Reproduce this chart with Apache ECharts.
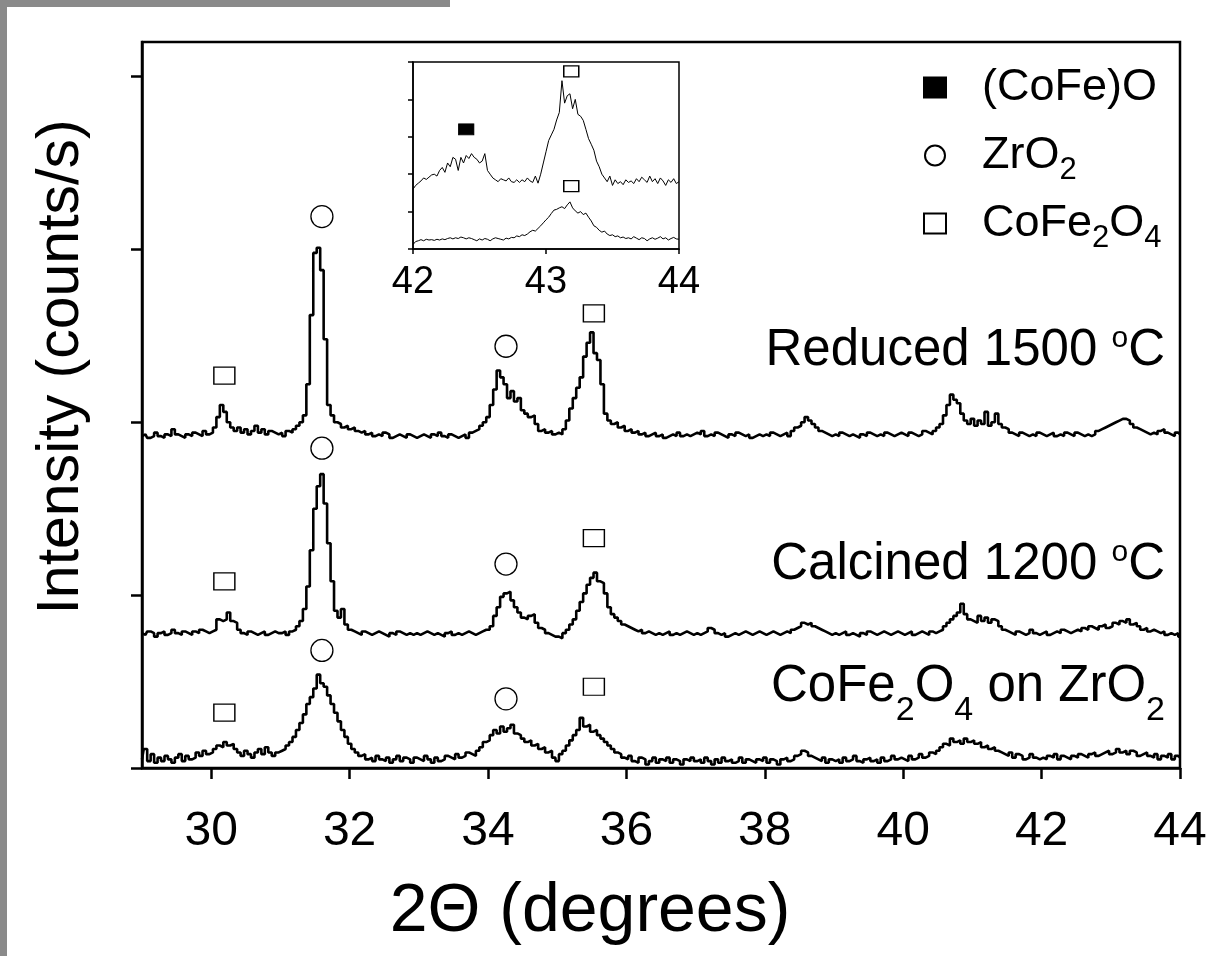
<!DOCTYPE html>
<html><head><meta charset="utf-8">
<script src="https://cdn.jsdelivr.net/npm/echarts@6/dist/echarts.min.js"></script>
<style>html,body{margin:0;padding:0;background:#fff}#c{width:1211px;height:956px}</style>
</head><body><div id="c"></div><script>
// ---- data ----
const X_START = 29, X_STEP = 0.05;               // main pattern sampling (2θ, degrees)
const reduced = [
192,193,191,192,194,192,191,193,192,196,193,192,191,193,192,194,193,192,195,193,
194,197,203,210,206,200,197,195,197,194,196,193,195,198,194,196,193,195,194,193,
194,192,195,194,196,198,200,204,222,262,298,301,288,248,210,204,200,199,197,198,
196,197,195,194,195,193,194,192,193,192,194,193,191,192,193,192,191,193,192,191,
192,193,192,191,193,192,194,192,191,193,192,191,192,193,191,194,195,196,198,200,
203,210,219,230,226,222,214,218,212,214,207,205,203,204,199,195,196,194,195,193,
194,193,196,201,208,214,220,226,238,246,252,240,236,222,205,201,199,200,197,198,
195,196,194,195,193,194,192,193,194,192,193,191,192,193,192,194,192,193,192,193,
194,193,195,192,193,192,194,193,192,191,193,192,194,193,192,193,191,192,193,192,
193,192,194,193,192,193,194,192,195,197,198,200,203,201,199,197,195,194,193,192,
193,192,194,193,192,193,192,191,193,192,194,193,192,193,192,194,193,192,193,194,
193,192,194,193,192,193,195,194,193,195,197,199,204,210,216,213,211,205,201,199,
202,198,201,199,206,198,200,205,199,197,196,194,193,192,194,193,192,193,192,194,
193,192,193,194,192,193,192,194,193,192,194,193,192,193,192,193,195,196,197,198,
199,200,201,202,202,201,199,197,196,195,194,193,194,193,195,196,194,193,192,194,
193];
const calcined = [
78,77,79,78,76,78,79,77,78,80,78,77,79,78,77,79,78,80,79,78,
79,80,86,85,86,90,85,84,80,78,77,79,78,77,78,79,77,78,79,78,
78,79,77,79,80,82,85,92,105,126,150,163,170,153,130,108,91,87,92,83,
80,79,78,77,79,78,77,78,79,78,77,76,78,77,79,78,77,78,77,78,
77,78,79,78,77,78,77,76,78,79,77,78,77,78,79,78,77,78,79,80,
80,82,88,93,99,101,102,97,93,90,87,86,88,89,84,81,80,78,77,76,
76,75,78,80,83,86,91,96,101,106,110,113,108,107,101,93,89,87,85,83,
82,81,80,79,80,78,79,78,77,78,77,78,79,77,78,77,78,79,78,77,
78,77,78,79,81,80,78,77,78,76,77,78,77,78,79,78,77,78,79,78,
77,78,79,78,77,78,79,78,80,81,82,84,83,84,82,81,80,79,78,77,
78,77,78,79,77,78,77,76,78,77,79,78,77,78,79,78,77,78,79,78,
77,78,79,77,78,79,78,77,79,78,79,80,82,84,86,88,90,95,89,86,
85,84,88,85,87,84,86,85,82,80,79,78,77,79,78,77,78,80,78,77,
78,79,77,78,79,78,80,79,78,79,80,79,81,80,82,81,80,82,83,81,
82,84,83,85,84,86,83,84,82,80,81,79,80,79,78,79,77,78,77,78,
76];
const supported = [
5,11,4,8,3,6,4,7,5,3,6,8,4,7,5,6,9,7,10,8,
9,11,13,12,15,13,14,11,9,7,10,8,6,9,11,8,12,9,7,9,
10,11,13,15,18,22,26,31,37,41,46,54,49,47,42,37,32,27,22,18,
14,11,9,7,8,5,6,4,7,5,4,6,3,5,7,4,6,5,3,6,
5,4,7,5,3,6,4,5,7,6,5,8,6,7,9,8,7,10,12,15,
16,19,22,20,24,21,23,25,20,19,17,15,16,13,14,11,12,9,10,6,
4,8,10,13,16,19,22,29,24,25,21,22,19,17,15,13,11,9,8,6,
5,7,4,3,6,5,2,4,6,3,5,4,6,3,5,4,2,5,4,6,
4,5,3,6,4,2,5,3,6,4,5,3,4,6,3,5,4,3,5,4,
6,3,5,4,2,5,6,4,5,7,8,10,9,7,6,5,4,6,3,5,
4,5,3,6,4,5,7,4,3,5,6,4,5,3,6,4,5,7,5,6,
5,4,7,5,6,8,6,7,9,8,10,12,14,13,17,15,16,14,17,15,
16,14,15,12,13,11,12,10,9,8,7,9,6,8,7,5,6,8,6,5,
6,5,7,6,8,5,7,6,5,7,6,8,7,6,8,9,7,8,9,10,
8,9,11,9,10,8,10,9,7,8,9,7,6,8,5,7,6,8,5,7,
6];
const INSET_START = 42, INSET_STEP = 0.02;        // inset sampling
const insetReduced = [
1.60,1.70,1.76,1.82,1.90,1.86,1.92,1.98,2.00,1.95,
2.10,2.18,2.05,2.30,2.20,2.45,2.40,2.10,2.45,2.30,
2.50,2.42,2.55,2.45,2.40,2.30,2.35,2.55,2.10,2.00,
1.90,1.85,1.80,1.88,1.85,1.82,1.90,1.80,1.78,1.85,
1.78,1.85,1.80,1.90,1.82,1.78,1.95,1.76,2.00,2.30,
2.60,2.90,3.05,3.20,3.45,3.65,4.50,3.90,4.10,4.15,
3.75,4.00,3.60,3.55,3.44,3.20,2.95,2.80,2.64,2.35,
2.20,2.00,1.90,1.80,1.95,1.70,1.85,1.75,1.80,1.72,
1.85,1.78,1.82,1.75,1.88,1.80,1.92,1.85,1.78,1.95,
1.80,1.88,1.75,1.90,1.82,1.70,1.85,1.78,1.88,1.75,
1.80];
const insetCalcined = [
0.12,0.20,0.22,0.25,0.22,0.26,0.24,0.25,0.23,0.26,
0.24,0.27,0.25,0.28,0.30,0.27,0.30,0.28,0.32,0.30,
0.27,0.30,0.28,0.25,0.22,0.27,0.24,0.28,0.26,0.22,
0.27,0.30,0.28,0.26,0.24,0.29,0.27,0.31,0.30,0.35,
0.33,0.38,0.36,0.40,0.46,0.50,0.48,0.55,0.62,0.70,
0.78,0.85,0.95,1.04,1.06,1.10,1.13,1.08,1.18,1.26,
1.10,1.02,0.96,1.00,0.92,0.96,0.85,0.75,0.62,0.58,
0.50,0.45,0.48,0.40,0.36,0.38,0.33,0.35,0.30,0.32,
0.28,0.30,0.27,0.33,0.29,0.25,0.30,0.28,0.22,0.27,
0.30,0.26,0.29,0.33,0.27,0.30,0.24,0.28,0.31,0.27,
0.26];
const xTickValues = [30, 32, 34, 36, 38, 40, 42, 44];
const yTickValues = [0, 100, 200, 300, 400];
const zro2Marks = [[31.60,319],[34.26,244],[31.60,185],[34.26,118],[31.60,68],[34.26,40]];
const spinelMarks = [[30.19,227],[35.53,263],[30.19,108],[35.53,133],[30.19,32],[35.53,47]];
const insetSpinelMarks = [[43.19,4.75],[43.19,1.68]];
const insetWustiteMarks = [[42.40,3.2]];
const legendNames = ['(CoFe)O', 'ZrO2', 'CoFe2O4'];
const curveLabels = ['Reduced 1500 °C', 'Calcined 1200 °C', 'CoFe2O4 on ZrO2'];

// ---- helpers ----
const FONT = "'Liberation Sans', Arial, sans-serif";
function toXY(arr, start, step, dec) {
  return arr.map((v, i) => [+(start + i * step).toFixed(dec), v]);
}
const richMain = (size, extra) => Object.assign({fontSize: size, fontFamily: FONT, color: '#000', fill: '#000'}, extra || {});

const chart = echarts.init(document.getElementById('c'), null, {renderer: 'canvas'});
const lineBase = {type: 'line', showSymbol: false, step: 'middle', silent: true, animation: false};
const markStyle = {color: '#fff', borderColor: '#000', borderWidth: 1.3, opacity: 1};

const labelRich = {
  a: richMain(51),
  o: richMain(30, {padding: [0, 0, 24, 0]}),
  s: richMain(34, {padding: [48, 0, 0, 0]})
};
const labelTexts = [
  '{a|Reduced 1500 }{o|o}{a|C}',
  '{a|Calcined 1200 }{o|o}{a|C}',
  '{a|CoFe}{s|2}{a|O}{s|4}{a| on ZrO}{s|2}'
];
const labelY = [351, 565, 687];

chart.setOption({
  animation: false,
  backgroundColor: '#fff',
  grid: [
    {left: 142, top: 42, width: 1038, height: 726, show: true, borderColor: '#000', borderWidth: 2.5},
    {left: 413, top: 62, width: 266, height: 187, show: true, borderColor: '#000', borderWidth: 1.5}
  ],
  xAxis: [
    {gridIndex: 0, type: 'value', min: 29, max: 44,
     axisLine: {onZero: false, lineStyle: {color: '#000', width: 2.5}},
     axisTick: {customValues: xTickValues, length: 11, lineStyle: {color: '#000', width: 2.5}},
     axisLabel: {customValues: xTickValues, fontSize: 48, fontFamily: FONT, color: '#000', margin: 40},
     splitLine: {show: false}},
    {gridIndex: 1, type: 'value', min: 42, max: 44, interval: 1,
     axisLine: {onZero: false, lineStyle: {color: '#000', width: 1.5}},
     axisTick: {length: 5, lineStyle: {color: '#000', width: 1.5}},
     axisLabel: {fontSize: 38, fontFamily: FONT, color: '#000', margin: 15},
     splitLine: {show: false}}
  ],
  yAxis: [
    {gridIndex: 0, type: 'value', min: 0, max: 420, interval: 100,
     axisLine: {show: true, onZero: false, lineStyle: {color: '#000', width: 2.5}},
     axisTick: {show: true, customValues: yTickValues, length: 11, lineStyle: {color: '#000', width: 2.5}},
     axisLabel: {show: false}, splitLine: {show: false}},
    {gridIndex: 1, type: 'value', min: 0, max: 5, interval: 1,
     axisLine: {show: true, onZero: false, lineStyle: {color: '#000', width: 1.5}},
     axisTick: {show: true, length: 5, lineStyle: {color: '#000', width: 1.5}},
     axisLabel: {show: false}, splitLine: {show: false}}
  ],
  legend: {
    data: legendNames, orient: 'vertical', left: 918, top: 60,
    itemWidth: 22, itemHeight: 20, itemGap: 15, selectedMode: false,
    formatter: function (n) {
      if (n === 'ZrO2') return '{t|ZrO}{s|2}';
      if (n === 'CoFe2O4') return '{t|CoFe}{s|2}{m|O}{s|4}';
      return '{t|' + n + '}{s| }';
    },
    textStyle: {fontSize: 45, fontFamily: FONT, color: '#000',
      rich: {
        t: richMain(45, {padding: [0, 0, 0, 31]}),
        m: richMain(45),
        s: richMain(31, {padding: [30, 0, 0, 0]})
      }}
  },
  graphic: [
    {type: 'rect', shape: {x: 0, y: 0, width: 7, height: 956}, style: {fill: '#8a8a8a'}, silent: true},
    {type: 'rect', shape: {x: 0, y: 0, width: 450, height: 7}, style: {fill: '#8a8a8a'}, silent: true},
    {type: 'text', x: 62, y: 367, rotation: Math.PI / 2,
     style: {text: 'Intensity (counts/s)', fontSize: 59, fontFamily: FONT, fill: '#000', align: 'center', verticalAlign: 'middle'}},
    {type: 'text', x: 590, y: 912,
     style: {text: '2\u0398 (degrees)', fontSize: 68, fontFamily: FONT, fill: '#000', align: 'center', verticalAlign: 'middle'}}
  ].concat(labelTexts.map((t, i) => ({
    type: 'text', x: 1165, y: labelY[i],
    style: {text: t, align: 'right', verticalAlign: 'middle', fontSize: 51, fontFamily: FONT, fill: '#000', rich: labelRich}
  }))),
  series: [
    Object.assign({}, lineBase, {name: curveLabels[0], xAxisIndex: 0, yAxisIndex: 0, data: toXY(reduced, X_START, X_STEP, 2), lineStyle: {color: '#000', width: 2.6}, z: 2}),
    Object.assign({}, lineBase, {name: curveLabels[1], xAxisIndex: 0, yAxisIndex: 0, data: toXY(calcined, X_START, X_STEP, 2), lineStyle: {color: '#000', width: 2.6}, z: 2}),
    Object.assign({}, lineBase, {name: curveLabels[2], xAxisIndex: 0, yAxisIndex: 0, data: toXY(supported, X_START, X_STEP, 2), lineStyle: {color: '#000', width: 2.6}, z: 2}),
    Object.assign({}, lineBase, {name: 'inset reduced', step: false, xAxisIndex: 1, yAxisIndex: 1, data: toXY(insetReduced, INSET_START, INSET_STEP, 2), lineStyle: {color: '#000', width: 1}, z: 2}),
    Object.assign({}, lineBase, {name: 'inset calcined', step: false, xAxisIndex: 1, yAxisIndex: 1, data: toXY(insetCalcined, INSET_START, INSET_STEP, 2), lineStyle: {color: '#000', width: 1}, z: 2}),
    {name: 'ZrO2', type: 'scatter', xAxisIndex: 0, yAxisIndex: 0, data: zro2Marks, symbol: 'circle', symbolSize: 22, itemStyle: markStyle, z: 3, silent: true},
    {name: 'CoFe2O4', type: 'scatter', xAxisIndex: 0, yAxisIndex: 0, data: spinelMarks, symbol: 'rect', symbolSize: [21, 17], itemStyle: markStyle, z: 3, silent: true},
    {name: 'CoFe2O4', type: 'scatter', xAxisIndex: 1, yAxisIndex: 1, data: insetSpinelMarks, symbol: 'rect', symbolSize: [15, 11], itemStyle: markStyle, z: 3, silent: true},
    {name: '(CoFe)O', type: 'scatter', xAxisIndex: 1, yAxisIndex: 1, data: insetWustiteMarks, symbol: 'rect', symbolSize: [15, 11], itemStyle: {color: '#000', borderColor: '#000', borderWidth: 1, opacity: 1}, z: 3, silent: true}
  ]
});
</script></body></html>
